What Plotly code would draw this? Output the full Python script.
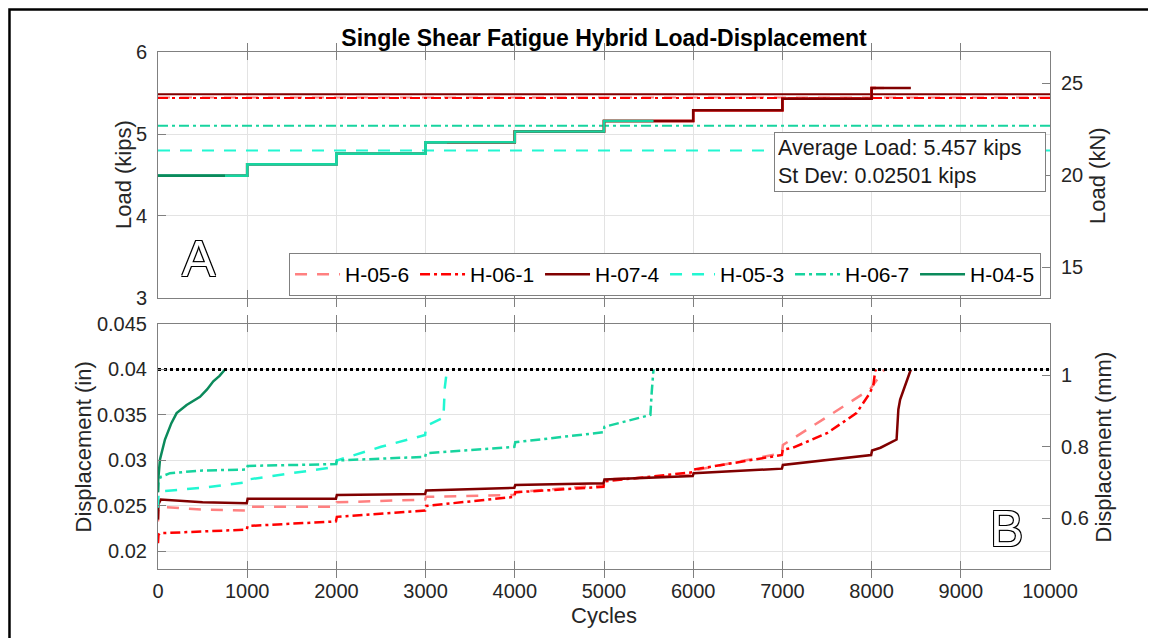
import plotly.graph_objects as go

KIP_TO_KN = 4.44822
IN_TO_MM = 25.4

# Specimens (legend order)
specimens = ['H-05-6', 'H-06-1', 'H-07-4', 'H-05-3', 'H-06-7', 'H-04-5']
colors = ['#ff8080', '#ff0000', '#800000', '#22f7d2', '#17d49f', '#0b8a5b']
dashes = ['12px,10px', '10px,4px,3px,4px', 'solid', '12px,10px', '10px,4px,3px,4px', 'solid']

# Hybrid (interpolated) load at failure, kips (H-04-5 failed in first block -> none)
hybrid_load = [5.445, 5.44, 5.485, 4.80, 5.10, None]

# Load protocol: load step every 1000 cycles
step_start = [0, 1000, 2000, 3000, 4000, 5000, 6000, 7000, 8000]
step_load = [4.49, 4.63, 4.76, 4.90, 5.03, 5.16, 5.29, 5.43, 5.56]

# Displacement histories (cycles, inches)
cyc_h056 = [0, 5, 20, 500, 995, 1005, 1995, 2005, 2995, 3005, 3995, 4005, 4995, 5005,
            5995, 6005, 6995, 7005, 7310, 7680, 7980, 8130, 8140]
disp_h056 = [0.0233, 0.0245, 0.0249, 0.0246, 0.0245, 0.0249, 0.0249, 0.0254, 0.0257, 0.0260,
             0.0262, 0.0265, 0.0273, 0.0279, 0.0284, 0.0289, 0.0308, 0.0317, 0.0336, 0.0359,
             0.0378, 0.0398, 0.0400]

cyc_h061 = [0, 5, 20, 500, 995, 1005, 1995, 2005, 2995, 3005, 3995, 4005, 4995, 5005,
            5995, 6005, 6995, 7005, 7120, 7500, 7830, 7980, 8020, 8040, 8050]
disp_h061 = [0.0209, 0.0218, 0.0220, 0.0222, 0.0224, 0.0228, 0.0233, 0.0238, 0.0245, 0.0250,
             0.0260, 0.0265, 0.0271, 0.0277, 0.0287, 0.0290, 0.0306, 0.0312, 0.0314, 0.0330,
             0.0352, 0.0374, 0.0383, 0.0398, 0.0400]

cyc_h074 = [0, 5, 30, 500, 995, 1005, 1995, 2005, 2995, 3005, 3995, 4005, 4995, 5005,
            5995, 6005, 6995, 7005, 7995, 8005, 8100, 8280, 8300, 8320, 8360, 8440]
disp_h074 = [0.0235, 0.0252, 0.0257, 0.0254, 0.0253, 0.0258, 0.0258, 0.0262, 0.0263, 0.0267,
             0.0270, 0.0273, 0.0275, 0.0279, 0.0283, 0.0286, 0.0291, 0.0295, 0.0306, 0.0311,
             0.0314, 0.0323, 0.0356, 0.0367, 0.0378, 0.0400]

cyc_h053 = [0, 5, 20, 500, 995, 1005, 1500, 1995, 2005, 2500, 2995, 3005, 3200, 3215, 3240]
disp_h053 = [0.0248, 0.0262, 0.0266, 0.0270, 0.0276, 0.0279, 0.0286, 0.0293, 0.0300, 0.0315,
             0.0328, 0.0338, 0.0347, 0.0380, 0.0400]

cyc_h067 = [0, 5, 30, 135, 500, 995, 1005, 1995, 2005, 2995, 3005, 3995, 4005, 4995, 5005,
            5520, 5535, 5555]
disp_h067 = [0.0265, 0.0275, 0.0282, 0.0286, 0.0289, 0.0290, 0.0294, 0.0296, 0.0300, 0.0304,
             0.0308, 0.0315, 0.0320, 0.0331, 0.0337, 0.0350, 0.0375, 0.0400]

cyc_h045 = [0, 2, 22, 78, 150, 209, 321, 400, 471, 550, 620, 690, 751]
disp_h045 = [0.0265, 0.0278, 0.0301, 0.0323, 0.0341, 0.0352, 0.0361, 0.0366, 0.0370, 0.0378,
             0.0387, 0.0393, 0.0400]

cycles = [cyc_h056, cyc_h061, cyc_h074, cyc_h053, cyc_h067, cyc_h045]
disps = [disp_h056, disp_h061, disp_h074, disp_h053, disp_h067, disp_h045]

disp_limit = 0.04
avg_text = 'Average Load: 5.457 kips<br>St Dev: 0.02501 kips'


def load_history(fail):
    xs, ys = [], []
    for s, p in zip(step_start, step_load):
        if s >= fail:
            break
        xs += [s, min(s + 1000, fail)]
        ys += [p, p]
    return xs, ys


fig = go.Figure()

# A: hybrid load lines
for name, c, d, h in zip(specimens, colors, dashes, hybrid_load):
    if h is None:
        continue
    fig.add_trace(go.Scatter(x=[0, 10000], y=[h, h], mode='lines', showlegend=False,
                             line=dict(color=c, width=2, dash=d), xaxis='x', yaxis='y'))

# A: load history of each specimen up to failure
for name, c, cyc in zip(specimens, colors, cycles):
    xs, ys = load_history(cyc[-1])
    fig.add_trace(go.Scatter(x=xs, y=ys, mode='lines', showlegend=False,
                             line=dict(color=c, width=2.5), xaxis='x', yaxis='y'))

# B: displacement curves (carry the legend)
for name, c, d, cyc, dsp in zip(specimens, colors, dashes, cycles, disps):
    fig.add_trace(go.Scatter(x=cyc, y=dsp, mode='lines', name=name,
                             line=dict(color=c, width=2.5, dash=d), xaxis='x2', yaxis='y2'))

fig.add_trace(go.Scatter(x=[0, 10000], y=[disp_limit, disp_limit], mode='lines',
                         showlegend=False, line=dict(color='black', width=3, dash='dot'),
                         xaxis='x2', yaxis='y2'))

# invisible traces so the secondary (SI) axes get drawn
fig.add_trace(go.Scatter(x=step_start, y=[p * KIP_TO_KN for p in step_load], mode='lines',
                         opacity=0, hoverinfo='skip', showlegend=False,
                         xaxis='x', yaxis='y3'))
fig.add_trace(go.Scatter(x=cyc_h045, y=[v * IN_TO_MM for v in disp_h045], mode='lines',
                         opacity=0, hoverinfo='skip', showlegend=False,
                         xaxis='x2', yaxis='y4'))

FONT = 'Liberation Sans, Arial'
tick_font = dict(family=FONT, size=20, color='#262626')
title_font = dict(family=FONT, size=22, color='#262626')
axis_common = dict(showline=True, linecolor='#808080', linewidth=1, ticks='inside',
                   ticklen=8, tickcolor='#808080', tickfont=tick_font, zeroline=False,
                   automargin=False)

# page has an 8px body margin, so the figure is shrunk by that amount
fig.update_layout(
    width=1148, height=630,
    margin=dict(l=150, r=106, t=44, b=69),
    paper_bgcolor='white', plot_bgcolor='white',
    font=dict(family=FONT, color='#262626'),
    title=dict(text='<b>Single Shear Fatigue Hybrid Load-Displacement</b>',
               x=0.5, xref='paper', y=1 - 30 / 630, yref='container', yanchor='middle',
               automargin=False, font=dict(family=FONT, size=23, color='black')),
    xaxis=dict(domain=[0, 1], anchor='y', range=[0, 10000], dtick=1000,
               showticklabels=False, mirror='allticks', showgrid=True,
               gridcolor='#e3e3e3', **axis_common),
    yaxis=dict(domain=[0.5242, 1], anchor='x', range=[3, 6], dtick=1,
               showgrid=True, gridcolor='#e3e3e3', ticklabelstandoff=6, **axis_common),
    yaxis3=dict(overlaying='y', anchor='x', side='right',
                range=[3 * KIP_TO_KN, 6 * KIP_TO_KN], tickvals=[15, 20, 25],
                showgrid=False, ticklabelstandoff=6, **axis_common),
    xaxis2=dict(domain=[0, 1], anchor='y2', range=[0, 10000], dtick=1000, tickformat='d',
                mirror='allticks', showgrid=True, gridcolor='#e3e3e3',
                ticklabelstandoff=4, **axis_common),
    yaxis2=dict(domain=[0, 0.4739], anchor='x2', range=[0.01807, 0.045],
                tickvals=[0.02, 0.025, 0.03, 0.035, 0.04, 0.045],
                ticktext=['0.02', '0.025', '0.03', '0.035', '0.04', '0.045'],
                showgrid=True, gridcolor='#e3e3e3', ticklabelstandoff=6, **axis_common),
    yaxis4=dict(overlaying='y2', anchor='x2', side='right',
                range=[0.01807 * IN_TO_MM, 0.045 * IN_TO_MM], tickvals=[0.6, 0.8, 1.0],
                ticktext=['0.6', '0.8', '1'],
                showgrid=False, ticklabelstandoff=6, **axis_common),
    legend=dict(orientation='h', x=0.1469, y=0.6112, xanchor='left', yanchor='top',
                bgcolor='white', bordercolor='#808080', borderwidth=1,
                font=dict(family=FONT, size=21, color='black'),
                itemwidth=45, entrywidth=65, entrywidthmode='pixels'),
    showlegend=True,
)

# axis titles
axis_titles = [
    ('Load (kips)', -0.0381, 0.7621, -90),
    ('Displacement (in)', -0.0841, 0.237, -90),
    ('Load (kN)', 1.0538, 0.7621, -90),
    ('Displacement (mm)', 1.0594, 0.237, -90),
    ('Cycles', 0.5, -0.0909, 0),
]
for txt, ax, ay, ang in axis_titles:
    fig.add_annotation(text=txt, xref='paper', yref='paper', x=ax, y=ay, textangle=ang,
                       xanchor='center', yanchor='middle', showarrow=False, font=title_font)

outline = '-1px -1px 0 #000, 1px -1px 0 #000, -1px 1px 0 #000, 1px 1px 0 #000'
fig.add_annotation(text='A', xref='paper', yref='paper', x=0.046, y=0.5995,
                   xanchor='center', yanchor='middle', showarrow=False,
                   font=dict(family=FONT, size=50, color='white', shadow=outline))
fig.add_annotation(text='B', xref='paper', yref='paper', x=0.9508, y=0.0773,
                   xanchor='center', yanchor='middle', showarrow=False,
                   font=dict(family=FONT, size=50, color='white', shadow=outline))
fig.add_annotation(text=avg_text, xref='paper', yref='paper', x=0.9955, y=0.8453,
                   xanchor='right', yanchor='top', align='left', showarrow=False,
                   width=264, bgcolor='white', bordercolor='#808080', borderwidth=1,
                   borderpad=3, font=dict(family=FONT, size=21.5, color='#1a1a1a'))

# outer frame
fig.add_shape(type='rect', xref='paper', yref='paper', x0=-0.1665, x1=1.2, y0=-0.2,
              y1=1.0822, line=dict(color='black', width=2.5), fillcolor='rgba(0,0,0,0)')

fig.write_html('out.html')
